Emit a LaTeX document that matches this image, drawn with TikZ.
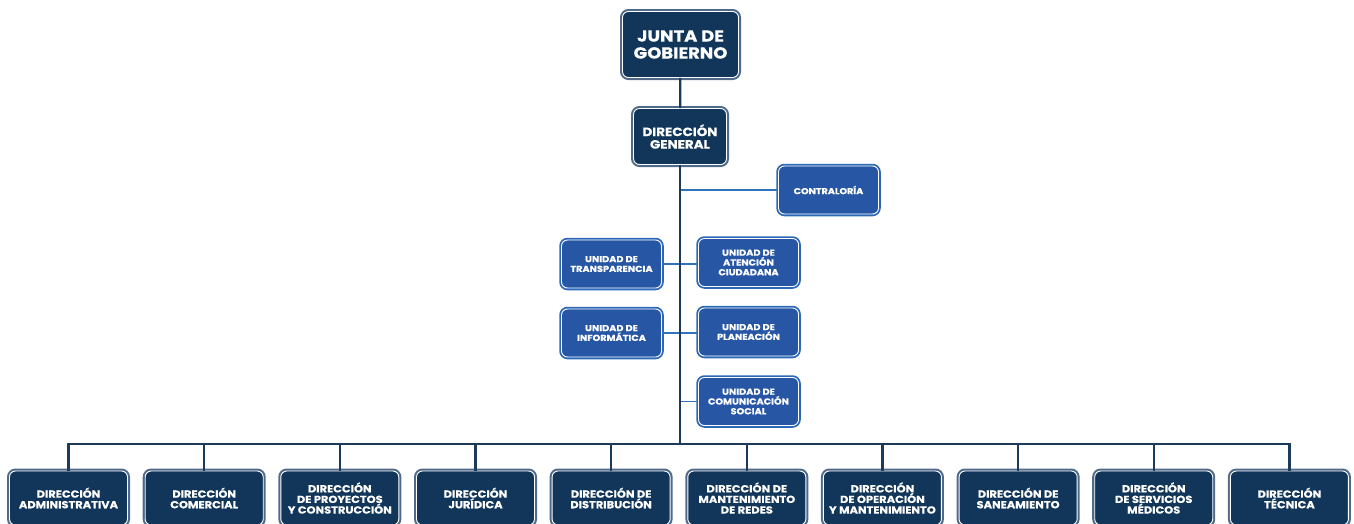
\documentclass[tikz,border=0pt]{standalone}
\usepackage{fontspec}
\setmainfont{Poppins}[BoldFeatures={FakeStretch=1.12,FakeBold=0.4}]
\usepackage{tikz}
\usetikzlibrary{positioning}
\definecolor{navy}{HTML}{12365A}
\definecolor{navyedge}{HTML}{506A8A}
\definecolor{unitblue}{HTML}{2757A4}
\definecolor{unitedge}{HTML}{2C68B8}
\definecolor{trunk}{HTML}{1C3A5A}
\definecolor{branch}{HTML}{2F72BE}

\begin{document}
\begin{tikzpicture}[x=1pt, y=-1pt,
        box/.style={rectangle, rounded corners=6pt, draw=white, line width=0.9pt,
            text=white, align=center, inner sep=0pt},
        dir node/.style={box, fill=navy, preaction={draw=navyedge, line width=5pt},
            minimum width=118pt, minimum height=54pt,
            font=\bfseries\fontsize{10.2}{10.6}\selectfont},
        unit node/.style={box, fill=unitblue, preaction={draw=unitedge, line width=4.5pt},
            minimum width=100pt, minimum height=48pt,
            font=\bfseries\fontsize{8.7}{9.8}\selectfont},
        main line/.style={draw=trunk, line width=2.2pt},
        unit line/.style={draw=branch, line width=1.5pt}]
    \useasboundingbox (0,0) rectangle (1354,523);

    % top of the chart
    \node[dir node, minimum width=116pt, minimum height=66pt,
        font=\bfseries\fontsize{16}{17}\selectfont] (junta) at (680.5,44.5) {JUNTA DE\\GOBIERNO};
    \node[dir node, minimum width=93pt, minimum height=56pt,
        font=\bfseries\fontsize{12}{12.5}\selectfont] (dg) at (680,136.5) {DIRECCIÓN\\GENERAL};

    % units hanging from the trunk
    \node[unit node, font=\bfseries\fontsize{8.6}{9}\selectfont] (contra) at (828.5,190) {CONTRALORÍA};
    \node[unit node] (transp) at (611.5,264) {UNIDAD DE\\TRANSPARENCIA};
    \node[unit node] (atencion) at (748.5,262.5) {UNIDAD DE\\ATENCIÓN\\CIUDADANA};
    \node[unit node] (informa) at (611.5,333) {UNIDAD DE\\INFORMÁTICA};
    \node[unit node] (planea) at (748.5,332) {UNIDAD DE\\PLANEACIÓN};
    \node[unit node] (comunica) at (748.5,401.5) {UNIDAD DE\\COMUNICACIÓN\\SOCIAL};

    % directions
    \node[dir node] (d1) at (68.5,498) {DIRECCIÓN\\ADMINISTRATIVA};
    \node[dir node] (d2) at (204.2,498) {DIRECCIÓN\\COMERCIAL};
    \node[dir node] (d3) at (339.8,498) {DIRECCIÓN\\DE PROYECTOS\\Y CONSTRUCCIÓN};
    \node[dir node] (d4) at (475.5,498) {DIRECCIÓN\\JURÍDICA};
    \node[dir node] (d5) at (611.1,498) {DIRECCIÓN DE\\DISTRIBUCIÓN};
    \node[dir node] (d6) at (746.8,498) {DIRECCIÓN DE\\MANTENIMIENTO\\DE REDES};
    \node[dir node] (d7) at (882.4,498) {DIRECCIÓN\\DE OPERACIÓN\\Y MANTENIMIENTO};
    \node[dir node] (d8) at (1018.1,498) {DIRECCIÓN DE\\SANEAMIENTO};
    \node[dir node] (d9) at (1153.7,498) {DIRECCIÓN\\DE SERVICIOS\\MÉDICOS};
    \node[dir node] (d10) at (1289.4,498) {DIRECCIÓN\\TÉCNICA};

    \coordinate (hub) at (680,444);

    % connectors
    \path[unit line]
        (contra.west) edge (contra.west -| dg.south)
        (transp.east) edge (transp.east -| atencion.west)
        (informa.east) edge (informa.east -| planea.west)
        (comunica.west) edge (comunica.west -| dg.south);
    \path[main line]
        (junta) edge (dg)
        (dg.south) edge (hub);
    \draw[main line] (d1.north) |- (hub) -| (d10.north);
    \foreach \n in {d2,d3,d4,d5,d6,d7,d8,d9}
        \draw[main line] (hub -| \n.north) -- (\n.north);
\end{tikzpicture}
\end{document}
